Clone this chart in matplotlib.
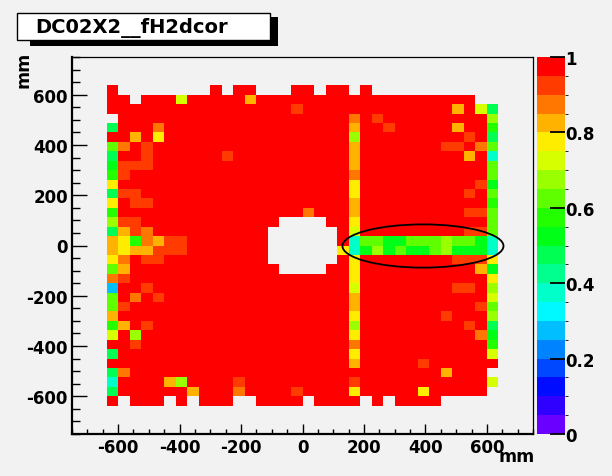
import colorsys

import matplotlib
matplotlib.use("Agg")
import matplotlib.pyplot as plt
import numpy as np
from matplotlib.colors import BoundaryNorm, ListedColormap
from matplotlib.patches import Ellipse, Rectangle
from matplotlib.ticker import MultipleLocator

title = "DC02X2__fH2dcor"
x_title = "mm"
y_title = "mm"

# histogram definition (mm): 40 x 40 bins, content only in bins 3..36
hist_lo, hist_hi, n_bins = -750.0, 750.0, 40
first_bin = 3

# colour of a cell -> bin content
levels = {
    "R": 0.98, "r": 0.93, "o": 0.88, "O": 0.83, "Y": 0.78, "y": 0.73,
    "l": 0.68, "L": 0.63, "g": 0.58, "G": 0.53, "s": 0.48, "m": 0.43,
    "a": 0.38, "b": 0.28, ".": np.nan,
}

# rows from top (y = +620) down, 34 columns from x = -620, in groups of 5
cells = [
    "R.... ....R .RR.. .RR.R R.R.. ..... ....",
    "RR.RR RyRRR RRORR RRRRR RRRRR RRRRR RR..",
    "RRRRR RRRRR RRRRR RrRRR RRRRR RRRRR ORys",
    ".RRRR RRRRR RRRRR RRRRR RoRrR RRRRR RRRl",
    "sRRRo RRRRR RRRRR RRRRR RORRr RRRRR ORRg",
    "RRORY RRRRR RRRRR RRRRR RlRRR RRRRR RrRs",
    "LoRrR RRRRR RRRRR RRRRR RORRR RRRRr rRoL",
    "sRRrR RRRRR rRRRR RRRRR RORRR RRRRR RORa",
    "GrrrR RRRRR RRRRR RRRRR RORRR RRRRR RRRL",
    "grRRR RRRRR RRRRR RRRRR RoRRR RRRRR RRRL",
    "YRRRR RRRRR RRRRR RRRRR RYRRR RRRRR RRrG",
    "srrRR RRRRR RRRRR RRRRR RYRRR RRRRR RrRL",
    "YRrrR RRRRR RRRRR RRRRR RORRR RRRRR RRRg",
    "gRRRR RRRRR RRRRR RRoRR RORRR RRRRR RrrL",
    "lrrRR RRRRR RRRRR ....R RYRRR RRRRR RRRL",
    "sOroR RRRRR RRRR. ..... RyRRR RRRRR RrrL",
    "OYgoO rrRRR RRRR. ..... RaLLG GLLLl LLGa",
    "OYOOr rrRRR RRRR. ..... YaGlG LGGLl GGGa",
    "YoRrr RRRRR RRRR. ..... RYRRR RRRRR rrrY",
    "LORRR RRRRR RRRRR ....R RYRRR RRRRR RROG",
    "orRRR RRRRR RRRRR RRRRR RYRRR RRRRR RRRY",
    "bRRrR RRRRR RRRRR RRRRR RyRRR RRRRR rrRl",
    "LRoRr RRRRR RRRRR RRRRR RORRR RRRRR RRRy",
    "LrRRR RRRRR RRRRR RRRRR RORRR RRRRR RRrL",
    "ORRRR RRRRR RRRRR RRRRR RYRRR RRRRr RRRl",
    "gORrR RRRRR RRRRR RRRRR RlRRR RRRRR RrRs",
    "yRlRR RRRRR RRRRR RRRRR RYRRR RRRRR RRoG",
    "RRrRR RRRRR RRRRR RRRRR RoRRR RRRRR RRRg",
    "sRRRR RRRRR RRRRR RRRRR RYRRR RRRRR RRRy",
    "RRRRR RRRRR RRRRR RRRRR RORRR RRrRR RRRR",
    "soRRR RRRRR RRRRR RRRRR RRRRR RRRRO RRR.",
    "aRRRR OlRRR RrRRR RRRRR RrRRR RRRRR RRRy",
    "sRRRR RRORR RoRRR RrRRR RYRRR RRYRR RRR.",
    "R.RRR .R.RR R..RR RR.RR RR.R. RRRR. ....",
]

# the ellipse drawn by hand round the low row (centre, width, height in mm)
ring_xy = (392.0, -2.0)
ring_w, ring_h = 524.0, 172.0

# colour axis
z_ticks = [0, 0.2, 0.4, 0.6, 0.8, 1]
z_labels = ["0", "0.2", "0.4", "0.6", "0.8", "1"]

rows = [r.replace(" ", "") for r in cells]
assert all(len(r) == 34 for r in rows), [len(r) for r in rows]
grid = np.array([[levels[c] for c in r] for r in rows])[::-1]

h = np.full((n_bins, n_bins), np.nan)
h[first_bin:first_bin + grid.shape[0], first_bin:first_bin + grid.shape[1]] = grid
edges = np.linspace(hist_lo, hist_hi, n_bins + 1)

# ROOT-like rainbow palette, 20 contours
n_cont = 20
pal = [colorsys.hsv_to_rgb(hh / 360.0, 1, 1) for hh in np.linspace(265, 0, n_cont)]
cmap = ListedColormap(pal)
norm = BoundaryNorm(np.linspace(0, 1, n_cont + 1), n_cont)

plt.rcParams["font.family"] = "DejaVu Sans"
plt.rcParams["font.weight"] = "bold"
plt.rcParams["axes.unicode_minus"] = False

bg = "#f2f2f2"
W, H = 612, 477
fig = plt.figure(figsize=(W / 100, H / 100), dpi=100, facecolor=bg)

ax = fig.add_axes([72 / W, 42 / H, 461 / W, 377 / H], facecolor=bg)
mesh = ax.pcolormesh(edges, edges, np.ma.masked_invalid(h), cmap=cmap, norm=norm,
                     antialiased=False, edgecolors="none")
ax.add_patch(Ellipse(ring_xy, ring_w, ring_h, fill=False, ec="black", lw=1.3))
ax.set_xlim(hist_lo, hist_hi)
ax.set_ylim(hist_lo, hist_hi)

for s in ["left", "bottom"]:
    ax.spines[s].set_linewidth(1.6)
for s in ["top", "right"]:
    ax.spines[s].set_linewidth(0.9)

ax.xaxis.set_major_locator(MultipleLocator(200))
ax.xaxis.set_minor_locator(MultipleLocator(50))
ax.yaxis.set_major_locator(MultipleLocator(200))
ax.yaxis.set_minor_locator(MultipleLocator(50))
ax.tick_params(axis="x", which="major", direction="in", length=7.5, width=1, labelsize=12, pad=3)
ax.tick_params(axis="x", which="minor", direction="in", length=3.6, width=1)
ax.tick_params(axis="y", which="major", direction="in", length=11, width=1, labelsize=12, pad=3)
ax.tick_params(axis="y", which="minor", direction="in", length=5.8, width=1)
for lab in ax.get_xticklabels() + ax.get_yticklabels():
    lab.set_fontweight("bold")

cax = fig.add_axes([537 / W, 42 / H, 28 / W, 377 / H])
cb = fig.colorbar(mesh, cax=cax, ticks=z_ticks)
cb.outline.set_visible(False)
cb.set_ticklabels(z_labels)
cax.tick_params(direction="in", length=11, width=1.3, pad=0, labelsize=12)
for lab in cax.get_yticklabels():
    lab.set_fontweight("bold")

fig.text(535 / W, 1 - 448 / H, x_title, ha="right", va="top", fontsize=12.5, fontweight="bold")
fig.text(23 / W, 1 - 52 / H, y_title, ha="center", va="top", rotation=90,
         fontsize=12.5, fontweight="bold")

# title box with shadow
fig.add_artist(Rectangle((30 / W, 1 - 47 / H), 248 / W, 29 / H, transform=fig.transFigure,
                         fc="black", ec="none"))
fig.add_artist(Rectangle((17 / W, 1 - 41 / H), 253 / W, 27 / H, transform=fig.transFigure,
                         fc="white", ec="black", lw=1))
fig.text(35 / W, 1 - 27.5 / H, title, ha="left", va="center", fontsize=14, fontweight="bold")

fig.savefig("out.png", dpi=100, facecolor=bg)
